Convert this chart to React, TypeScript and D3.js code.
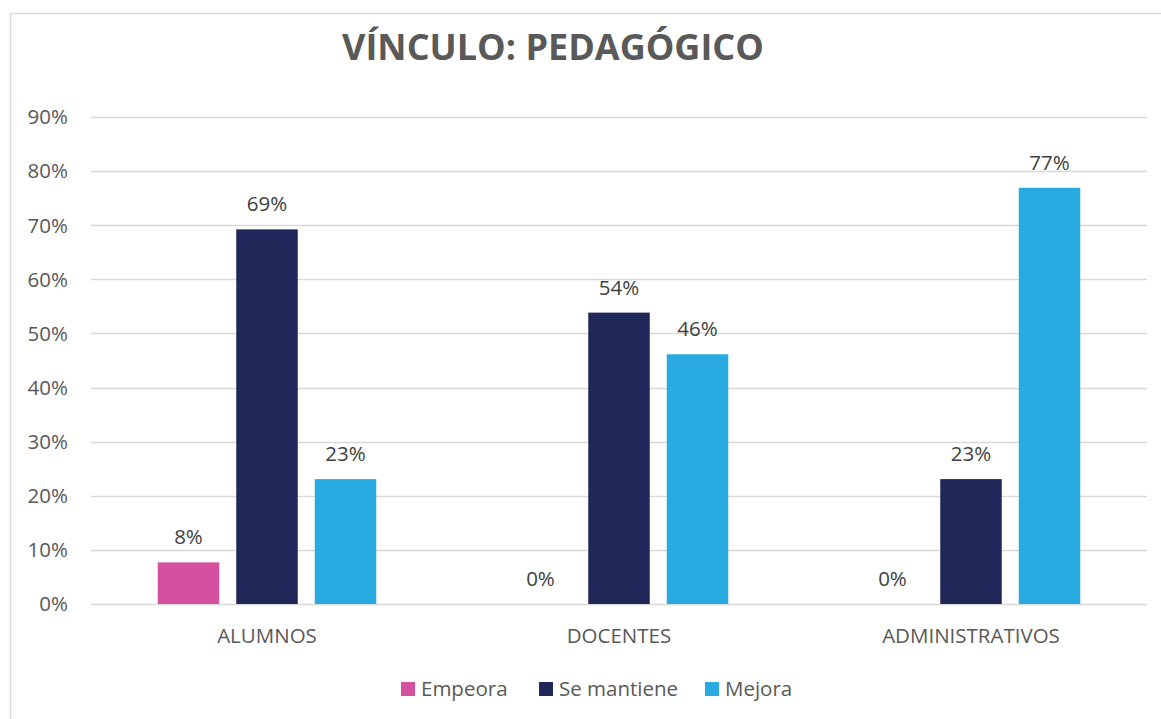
import React from "react";
import * as d3 from "d3";

const categories = ["ALUMNOS", "DOCENTES", "ADMINISTRATIVOS"];
const seriesNames = ["Empeora", "Se mantiene", "Mejora"];
const empeora = [0.0769, 0, 0];
const seMantiene = [0.6923, 0.5385, 0.2308];
const mejora = [0.2308, 0.4615, 0.7692];
const yTicks = [0, 0.1, 0.2, 0.3, 0.4, 0.5, 0.6, 0.7, 0.8, 0.9];
const colors = ["#D5519F", "#1F2858", "#29ABE2"];
const title = "VÍNCULO: PEDAGÓGICO";

export default function App() {
  const W = 1161, H = 719;
  const left = 91, right = 1147, top = 117, bottom = 604;
  const series = [empeora, seMantiene, mejora];
  const x0 = d3.scaleBand().domain(categories).range([left, right]).paddingInner(0).paddingOuter(0);
  const x1 = d3.scaleBand().domain(seriesNames).range([0, x0.bandwidth()]).paddingInner(0.2166).paddingOuter(0.85);
  const y = d3.scaleLinear().domain([0, 0.9]).range([bottom, top]);
  const fmt = d3.format(".0%");
  const font = "'Open Sans', sans-serif";
  const fs = 20.5;

  return (
    <div style={{ position: "fixed", left: 0, top: 0 }}>
      <svg width={W} height={H} style={{ display: "block", background: "#fff" }}>
        <rect x={10.5} y={13.5} width={1160} height={720} fill="#fff" stroke="#d9d9d9" strokeWidth={1.5} />
        <text x={553} y={60} textAnchor="middle" fontFamily={font} fontWeight={700} fontSize={36} fill="#595959">{title}</text>
        {yTicks.map((t) => (
          <g key={t}>
            <line x1={left} x2={right} y1={Math.round(y(t)) + 0.5} y2={Math.round(y(t)) + 0.5} stroke="#d9d9d9" strokeWidth={1.3} />
            <text x={68} y={y(t)} dy="0.36em" textAnchor="end" fontFamily={font} fontSize={fs} fill="#595959">{fmt(t)}</text>
          </g>
        ))}
        {categories.map((c, ci) => (
          <g key={c} transform={`translate(${x0(c)},0)`}>
            {series.map((s, si) => {
              const v = s[ci];
              const bx = x1(seriesNames[si])!;
              return (
                <g key={si}>
                  {v > 0 && (
                    <rect x={bx} y={y(v)} width={x1.bandwidth()} height={y(0) - y(v)} fill={colors[si]} />
                  )}
                  <text x={bx + x1.bandwidth() / 2} y={y(v) - 18} textAnchor="middle" fontFamily={font} fontSize={fs} fill="#404040">{fmt(v)}</text>
                </g>
              );
            })}
            <text x={x0.bandwidth() / 2} y={643} textAnchor="middle" fontFamily={font} fontSize={fs} fill="#595959">{c}</text>
          </g>
        ))}
        {seriesNames.map((n, i) => {
          const lx = [401, 539, 705][i];
          return (
            <g key={n}>
              <rect x={lx} y={682} width={14} height={14} fill={colors[i]} />
              <text x={lx + 20} y={696} fontFamily={font} fontSize={fs} fill="#595959">{n}</text>
            </g>
          );
        })}
      </svg>
    </div>
  );
}
